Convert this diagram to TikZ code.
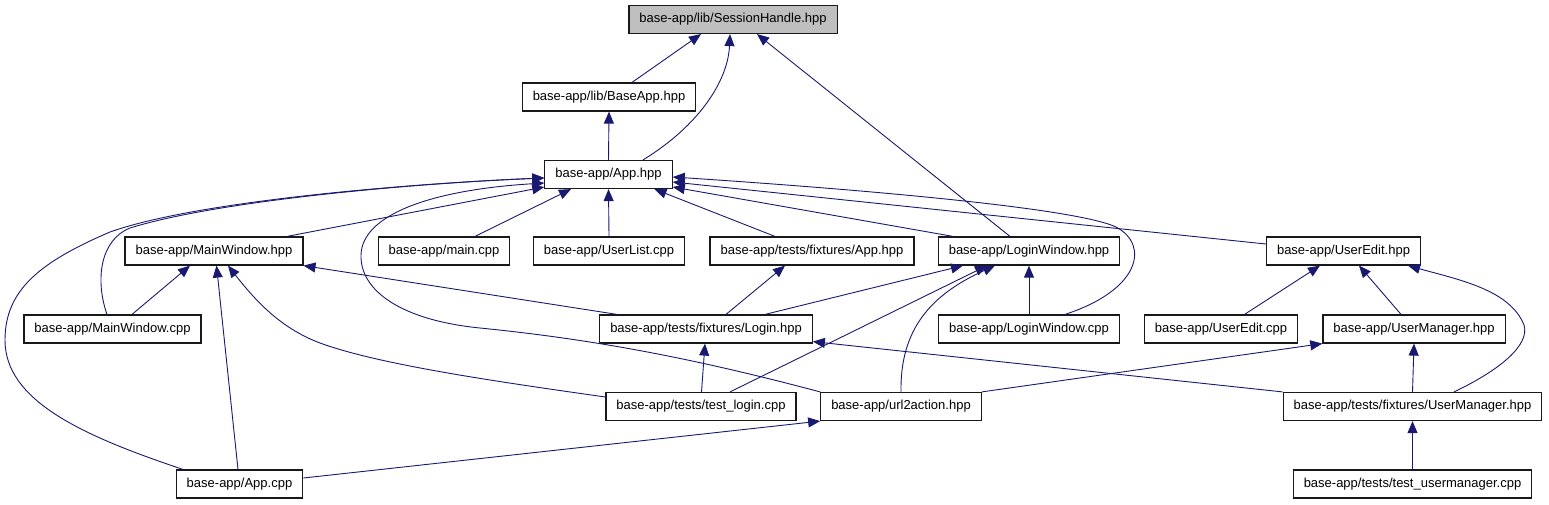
\documentclass[tikz,border=0pt]{standalone}
\usepackage{fontspec}
\setmainfont{Liberation Sans}
\usetikzlibrary{arrows.meta}
\definecolor{edgeblue}{HTML}{191970}
\definecolor{rootgray}{HTML}{BFBFBF}

\begin{document}
\begin{tikzpicture}[
  x=1pt, y=-1pt,
  file/.style = {
    draw=black!90, line width=1.2pt, fill=white, rectangle,
    minimum height=28pt, inner xsep=10.5pt, inner ysep=0pt,
    font=\fontsize{13}{15}\selectfont
  },
  root file/.style = {file, fill=rootgray},
  arr/.style = {-{Triangle[length=12pt,width=10pt]}, draw=edgeblue, line width=0.9pt},
]
\useasboundingbox (0,0) rectangle (1549,504);

% files
\node[root file] (sh)       at (733,19.5)   {base-app/lib/SessionHandle.hpp};
\node[file] (baseapp)       at (609,97)     {base-app/lib/BaseApp.hpp};
\node[file] (apphpp)        at (608.5,174.5){base-app/App.hpp};

\node[file] (mwhpp)         at (214,251)    {base-app/MainWindow.hpp};
\node[file] (maincpp)       at (444,251)    {base-app/main.cpp};
\node[file] (userlist)      at (609,251)    {base-app/UserList.cpp};
\node[file] (fixapp)        at (812,251)    {base-app/tests/fixtures/App.hpp};
\node[file] (lwhpp)         at (1029,251)   {base-app/LoginWindow.hpp};
\node[file] (uehpp)         at (1343.5,251) {base-app/UserEdit.hpp};

\node[file] (mwcpp)         at (112.5,329)  {base-app/MainWindow.cpp};
\node[file] (fixlogin)      at (706,329)    {base-app/tests/fixtures/Login.hpp};
\node[file] (lwcpp)         at (1029,329)   {base-app/LoginWindow.cpp};
\node[file] (uecpp)         at (1221,329)   {base-app/UserEdit.cpp};
\node[file] (umhpp)         at (1414,329)   {base-app/UserManager.hpp};

\node[file] (testlogin)     at (701,406.5)  {base-app/tests/test\_login.cpp};
\node[file] (url2action)    at (901,406.5)  {base-app/url2action.hpp};
\node[file] (fixum)         at (1412.5,406.5){base-app/tests/fixtures/UserManager.hpp};

\node[file] (appcpp)        at (239.5,484)  {base-app/App.cpp};
\node[file] (testum)        at (1412.5,484) {base-app/tests/test\_usermanager.cpp};

% includes of SessionHandle.hpp
\draw[arr] ([xshift=23]baseapp.north) -- ([xshift=-32]sh.south);
\draw[arr] ([xshift=34.5]apphpp.north) .. controls (700,125) and (728,80) .. ([xshift=-3]sh.south);
\draw[arr] ([xshift=-19]lwhpp.north) -- ([xshift=24]sh.south);
\draw[arr] (apphpp.north) -- (baseapp.south);

% includes of App.hpp
\draw[arr] ([xshift=73]mwhpp.north) -- ([yshift=-12.5]apphpp.west);
\draw[arr] ([xshift=31]maincpp.north) -- ([xshift=-37.5]apphpp.south);
\draw[arr] (userlist.north) -- (apphpp.south);
\draw[arr] ([xshift=-37]fixapp.north) -- ([xshift=46]apphpp.south);
\draw[arr] ([xshift=-76]lwhpp.north) -- ([yshift=-12.5]apphpp.east);
\draw[arr] ([yshift=7]uehpp.west) -- ([yshift=-7.5]apphpp.east);
\draw[arr] ([xshift=36]lwcpp.north) .. controls (1140,290) and (1150,245) .. (1116,227)
  .. controls (1080,210) and (900,192) .. ([yshift=-2.5]apphpp.east);
\draw[arr] ([xshift=-5.5]mwcpp.north) .. controls (95,280) and (100,240) .. (130,228)
  .. controls (220,200) and (420,183) .. ([yshift=-3.5]apphpp.west);
\draw[arr] ([xshift=-56.5]appcpp.north) .. controls (80,435) and (5,400) .. (5,340)
  .. controls (5,290) and (40,262) .. (110,232)
  .. controls (200,200) and (420,183) .. ([yshift=-3.5]apphpp.west);
\draw[arr] (url2action.north west) .. controls (700,360) and (600,340) .. (480,328)
  .. controls (400,320) and (360,290) .. (361,255)
  .. controls (362,215) and (430,190) .. ([yshift=-8.5]apphpp.west);

% includes of MainWindow.hpp
\draw[arr] ([xshift=19.5]mwcpp.north) -- ([xshift=-24]mwhpp.south);
\draw[arr] ([xshift=-1.5]appcpp.north) -- ([xshift=2.5]mwhpp.south);
\draw[arr] ([yshift=9.5]testlogin.west) .. controls (500,382) and (380,365) .. (320,343)
  .. controls (280,328) and (255,300) .. ([xshift=14]mwhpp.south);
\draw[arr] ([xshift=-89]fixlogin.north) -- (mwhpp.south east);

% includes of fixtures/App.hpp and LoginWindow.hpp
\draw[arr] ([xshift=20]fixlogin.north) -- ([xshift=-27]fixapp.south);
\draw[arr] ([xshift=59]fixlogin.north) -- ([xshift=-66]lwhpp.south);
\draw[arr] ([xshift=29]testlogin.north) -- ([xshift=-42]lwhpp.south);
\draw[arr] (url2action.north) .. controls (900,330) and (930,295) .. ([xshift=-34]lwhpp.south);
\draw[arr] (lwcpp.north) -- (lwhpp.south);

% includes of fixtures/Login.hpp
\draw[arr] ([xshift=0.5]testlogin.north) -- ([xshift=-1]fixlogin.south);
\draw[arr] (fixum.north west) -- ([yshift=2]fixlogin.south east);

% includes of UserEdit.hpp and UserManager.hpp
\draw[arr] ([xshift=23.5]uecpp.north) -- ([xshift=-23.5]uehpp.south);
\draw[arr] ([xshift=-13]umhpp.north) -- ([xshift=15.5]uehpp.south);
\draw[arr] ([xshift=41.5]fixum.north) .. controls (1500,370) and (1530,345) .. (1524,325)
  .. controls (1510,290) and (1460,280) .. ([xshift=64.5]uehpp.south);
\draw[arr] (url2action.north east) -- (umhpp.south west);
\draw[arr] (fixum.north) -- (umhpp.south);

% includes of url2action.hpp and fixtures/UserManager.hpp
\draw[arr] ([yshift=6]appcpp.east) -- (url2action.south west);
\draw[arr] (testum.north) -- (fixum.south);

\end{tikzpicture}
\end{document}
